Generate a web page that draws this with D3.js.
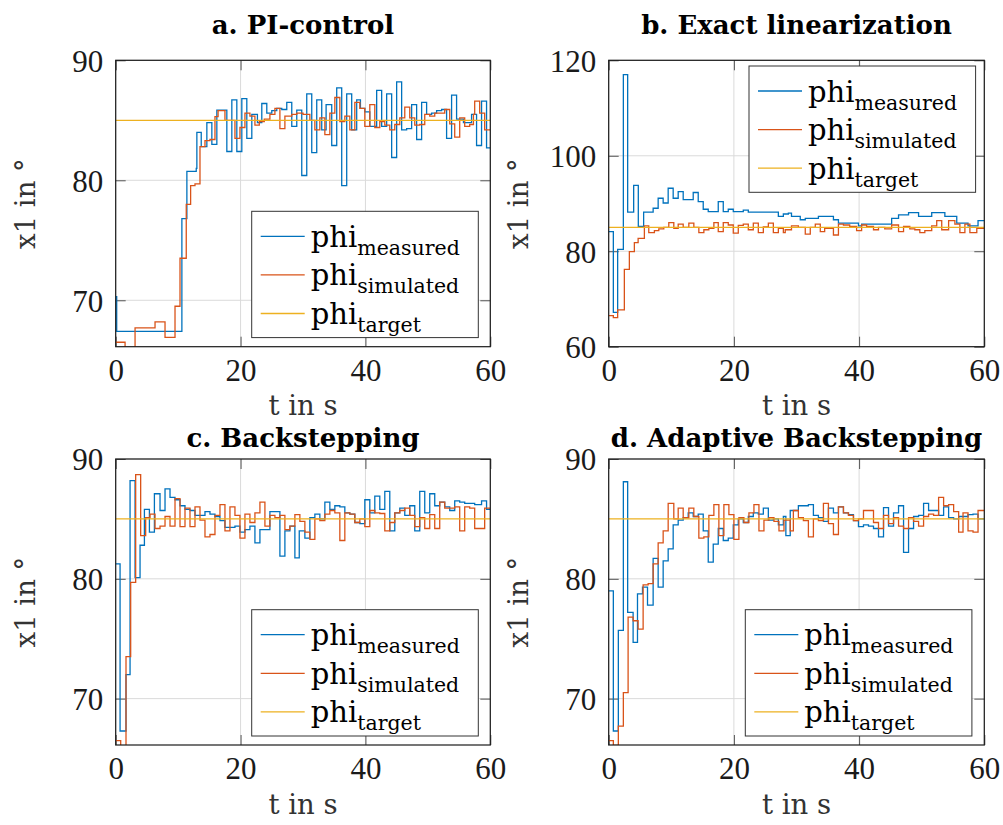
<!DOCTYPE html>
<html>
<head>
<meta charset="utf-8">
<script src="https://cdn.jsdelivr.net/npm/d3@7"></script>
<style>
  html, body { margin: 0; padding: 0; background: #fff; }
  svg { display: block; }
</style>
</head>
<body>
<svg id="chart" width="1003" height="825"></svg>
<script>
// ---------------- DATA (step series: [time s, angle deg], value holds until next time) ----------------
const xTicks = [0, 20, 40, 60];
const yTicksLow = [70, 80, 90];
const yTicksB = [60, 80, 100, 120];
const titles = ["a. PI-control", "b. Exact linearization", "c. Backstepping", "d. Adaptive Backstepping"];
const seriesNames = ["measured", "simulated", "target"];
const targetValue = 85;
const tEnd = 60;

const aMeasured = [[0,70.3],[0.16,67.4],[10.6,76.8],[11.4,80.75],[12.9,81.0],[13.0,84.0],[13.7,82.8],[14.6,84.8],[15.4,83.0],[16.2,85.85],[17.8,82.4],[18.6,86.7],[19.4,82.4],[20.2,86.8],[21.0,83.5],[21.8,85.5],[22.7,84.8],[23.4,86.4],[24.2,85.6],[25.0,85.8],[25.8,86.0],[26.6,85.9],[27.4,86.5],[28.2,84.5],[29.0,85.85],[29.8,80.4],[30.6,87.2],[31.4,82.3],[32.2,86.7],[33.0,84.2],[33.7,86.3],[34.6,82.9],[35.4,87.7],[36.2,79.55],[37.0,87.2],[37.8,84.2],[38.6,86.7],[39.2,86.0],[39.9,85.7],[40.7,84.5],[41.8,87.5],[42.6,84.5],[43.4,87.2],[44.2,81.9],[45.0,88.2],[45.8,84.2],[46.6,84.3],[47.4,86.3],[48.2,83.4],[49.0,86.5],[49.8,85.5],[50.6,85.6],[51.4,85.8],[52.2,85.9],[53.0,83.5],[53.8,87.1],[54.6,85.1],[55.7,84.8],[57.0,85.5],[57.8,82.9],[58.6,86.6],[59.4,82.7]];
const aSimulated = [[0,66.5],[1.5,65.8],[3.1,67.7],[6.3,68.2],[7.9,66.9],[9.5,69.5],[10.3,73.5],[11.3,78.0],[12.0,79.55],[12.7,79.7],[13.5,82.8],[14.3,83.3],[15.1,83.4],[15.9,85.3],[16.4,85.8],[17.5,85.0],[19.1,83.5],[19.9,84.4],[20.7,85.6],[21.5,85.35],[22.3,84.6],[23.0,84.9],[23.8,85.1],[24.7,85.5],[25.5,86.0],[26.3,84.3],[27.1,85.35],[28.2,85.5],[29.0,85.6],[30.0,85.5],[31.1,85.0],[31.9,84.2],[32.7,85.2],[33.5,83.8],[34.3,85.6],[35.1,86.9],[35.9,84.9],[36.7,85.35],[37.5,84.2],[38.3,86.5],[39.1,86.0],[39.9,84.5],[40.7,86.3],[41.5,84.4],[42.3,84.9],[43.1,84.6],[43.9,84.2],[44.7,84.65],[45.5,85.2],[46.3,86.1],[47.1,85.2],[47.9,84.6],[48.7,84.65],[49.5,85.5],[50.3,85.35],[51.1,85.6],[51.9,85.6],[52.7,85.9],[53.5,84.7],[54.3,83.6],[55.1,85.2],[55.9,84.5],[56.7,84.65],[57.3,85.5],[57.5,86.6],[58.3,85.6],[59.1,84.2]];

const bMeasured = [[0,84.1],[0.74,67.2],[1.43,80.4],[2.34,117.0],[3.03,88.2],[3.99,93.8],[4.73,85.2],[5.58,88.2],[7.1,89.0],[7.9,91.1],[8.7,90.1],[9.5,93.2],[10.3,91.1],[11.1,92.5],[11.9,90.8],[13.5,92.3],[14.3,90.4],[15.1,88.8],[15.9,88.3],[17.5,90.4],[18.3,88.3],[19.1,88.8],[19.9,88.3],[21.5,88.6],[22.3,88.2],[27.1,87.3],[27.9,87.8],[28.7,88.0],[29.2,87.3],[30.6,86.6],[31.4,86.9],[33.5,87.3],[35.9,86.6],[36.7,85.9],[39.9,85.3],[40.4,85.7],[45.2,86.9],[46.3,87.6],[47.9,88.1],[49.5,87.3],[51.6,88.1],[53.7,87.3],[55.6,85.9],[57.4,85.3],[59.0,86.4]];
const bSimulated = [[0,66.5],[0.74,66.1],[1.43,67.7],[2.5,76.2],[3.3,79.9],[4.1,81.8],[4.7,82.7],[5.7,85.3],[6.4,83.9],[7.3,84.3],[8.0,84.7],[8.8,85.0],[9.6,86.0],[10.4,84.8],[11.1,85.7],[11.9,85.0],[12.8,85.9],[13.6,85.0],[14.4,83.9],[15.2,84.5],[16.0,84.8],[16.8,86.0],[17.5,84.1],[18.3,86.0],[19.1,85.5],[19.9,83.8],[20.7,85.4],[21.5,85.7],[22.3,84.5],[23.1,85.9],[23.9,83.9],[24.7,85.1],[25.5,85.9],[26.3,83.9],[27.1,84.8],[27.9,83.9],[28.2,84.5],[29.2,85.3],[30.3,85.0],[31.4,83.6],[32.2,85.0],[33.0,85.7],[33.8,84.1],[34.5,84.8],[35.9,83.4],[36.7,85.7],[37.5,85.5],[38.5,85.2],[39.6,84.3],[40.4,85.5],[41.2,85.2],[42.3,84.5],[43.1,85.0],[44.1,84.7],[45.2,85.5],[46.3,84.1],[47.1,85.2],[48.1,84.7],[48.9,84.5],[49.7,83.9],[50.5,84.3],[51.6,85.3],[52.4,86.4],[53.2,84.5],[54.3,86.4],[55.3,85.7],[56.1,83.9],[56.9,85.7],[57.7,83.9],[58.8,84.8]];

const cMeasured = [[0,81.25],[0.7,67.3],[1.65,72.0],[2.3,88.2],[3.1,80.1],[3.9,82.8],[4.6,85.8],[5.4,83.9],[6.2,87.1],[7.1,85.7],[7.9,87.5],[8.7,86.8],[9.5,86.6],[10.3,86.1],[11.1,85.8],[11.9,85.7],[12.7,85.3],[14.3,85.6],[15.1,85.4],[15.9,85.2],[16.7,84.85],[17.5,84.3],[19.1,84.4],[19.9,83.9],[20.7,84.1],[21.5,84.4],[22.3,83.0],[23.1,84.1],[24.7,85.6],[26.3,81.9],[27.1,84.0],[27.9,84.4],[28.7,81.75],[29.4,84.0],[30.3,83.4],[31.1,85.1],[31.9,85.4],[32.7,85.0],[33.5,86.4],[34.3,85.8],[35.1,86.1],[35.9,86.0],[36.7,85.5],[37.5,85.4],[38.3,84.7],[39.1,84.6],[39.9,86.6],[40.7,85.5],[41.5,86.9],[42.3,85.8],[43.1,87.3],[43.9,84.0],[44.7,85.5],[45.5,85.9],[46.3,85.3],[47.1,86.1],[47.9,84.0],[48.7,87.3],[49.5,85.5],[50.3,87.1],[51.1,86.1],[51.9,86.4],[52.7,86.0],[53.5,85.7],[54.3,86.5],[55.1,86.4],[55.9,86.3],[57.5,86.2],[58.6,86.5],[59.4,85.8]];
const cSimulated = [[0,66.5],[0.8,65.8],[1.65,73.5],[2.4,79.7],[3.2,88.7],[4.0,83.6],[4.8,85.1],[5.5,85.4],[6.3,84.2],[7.1,84.4],[7.9,85.2],[8.7,84.4],[9.5,86.7],[10.3,84.35],[11.1,85.9],[11.9,84.35],[12.7,86.0],[13.5,84.9],[14.3,83.5],[15.1,83.7],[15.9,85.3],[16.7,86.2],[17.5,84.0],[18.3,86.0],[19.1,85.3],[19.9,83.4],[20.7,85.4],[21.5,84.7],[22.3,85.5],[23.1,86.4],[23.9,84.4],[24.7,85.3],[25.5,85.1],[26.3,85.3],[27.1,84.1],[27.9,84.4],[28.7,85.35],[29.5,84.8],[30.3,83.9],[31.1,83.3],[31.9,85.0],[32.7,84.85],[33.5,85.4],[34.3,85.7],[35.1,85.5],[35.9,83.2],[36.7,85.5],[37.5,85.4],[38.3,84.7],[39.1,85.0],[39.9,84.35],[40.7,85.7],[41.5,85.5],[42.3,85.45],[43.1,84.0],[43.9,84.7],[44.7,85.5],[45.5,85.7],[46.3,85.9],[47.1,85.3],[47.9,84.35],[48.7,85.1],[49.5,84.2],[50.3,85.35],[51.1,84.2],[51.9,86.4],[52.7,85.9],[53.5,85.9],[54.3,86.0],[55.1,84.0],[55.9,86.0],[56.7,85.9],[57.5,84.2],[58.3,84.2],[59.1,85.9]];

const dMeasured = [[0,79.0],[0.74,67.3],[1.54,75.7],[2.34,88.1],[3.03,77.2],[3.9,74.7],[4.6,78.75],[5.4,79.3],[6.2,77.8],[7.1,81.7],[7.9,79.3],[8.7,81.5],[9.5,82.5],[10.3,84.5],[11.1,84.9],[11.9,85.1],[12.7,85.5],[13.5,85.2],[14.3,85.4],[15.1,84.0],[15.9,81.4],[16.7,82.9],[17.5,84.2],[18.3,83.2],[19.1,83.4],[19.9,84.5],[20.7,85.0],[21.5,84.7],[22.3,85.2],[23.1,85.5],[23.9,85.4],[24.7,85.9],[25.5,84.9],[26.3,85.0],[27.1,84.5],[27.9,85.2],[28.3,83.6],[29.0,85.7],[30.3,86.1],[31.9,86.2],[32.7,85.3],[33.5,85.1],[34.3,84.8],[35.1,85.9],[35.9,85.5],[36.7,86.0],[37.5,85.5],[38.3,85.35],[39.1,84.85],[39.9,84.35],[40.7,84.5],[41.5,84.4],[42.3,84.2],[43.1,83.5],[43.9,85.95],[44.7,84.4],[45.5,85.5],[46.3,86.1],[47.1,82.2],[47.9,84.2],[48.7,85.2],[49.5,85.3],[50.3,86.3],[51.1,85.7],[52.7,85.3],[53.5,86.0],[54.3,85.1],[55.1,85.0],[55.9,85.2],[57.4,85.35],[58.2,85.4],[59.0,85.0]];
const dSimulated = [[0,66.5],[0.74,66.1],[1.54,67.7],[2.34,70.5],[3.1,76.8],[3.9,76.5],[4.7,75.8],[5.5,79.5],[6.3,79.6],[7.1,81.25],[7.9,83.0],[8.7,84.0],[9.5,86.3],[10.4,85.0],[11.1,85.9],[11.9,85.1],[12.8,85.9],[13.6,85.2],[14.4,83.4],[15.2,83.5],[16.0,85.3],[16.8,86.2],[17.6,83.6],[18.4,86.2],[19.2,85.35],[20.0,83.3],[20.8,85.1],[21.6,84.7],[22.4,85.5],[23.2,86.2],[24.0,84.0],[24.8,84.9],[25.6,85.1],[26.4,84.8],[27.2,84.0],[28.0,84.9],[29.0,84.0],[29.5,85.7],[30.3,85.1],[31.1,84.85],[31.9,83.5],[32.7,85.0],[33.5,84.85],[34.3,86.3],[35.1,84.6],[35.9,83.7],[36.7,86.0],[37.5,85.5],[38.3,85.3],[39.1,84.85],[39.9,85.0],[40.7,85.7],[41.5,85.7],[42.3,84.7],[43.1,84.2],[43.9,85.3],[44.7,84.6],[45.5,85.1],[46.3,84.4],[47.1,84.2],[47.9,85.1],[48.7,84.8],[49.5,84.4],[50.3,85.2],[51.1,85.4],[51.9,85.3],[52.7,86.8],[53.5,86.1],[54.3,86.2],[55.1,85.6],[55.9,83.9],[56.6,85.5],[57.4,84.0],[58.2,83.9],[59.0,85.7]];

// ---------------- LAYOUT ----------------
const colors = { measured: "#0072BD", simulated: "#D95319", target: "#EDB120" };
const panels = [
  { title: titles[0], meas: aMeasured, sim: aSimulated, yDomain: [66.13, 90], yTicks: yTicksLow,
    left: 115.7, top: 60.3, w: 374.6, h: 286.4, titleY: 33.5, legend: [251.7, 211.3] },
  { title: titles[1], meas: bMeasured, sim: bSimulated, yDomain: [60, 120], yTicks: yTicksB,
    left: 608.7, top: 60.3, w: 375.6, h: 286.4, titleY: 33.5, legend: [749, 66] },
  { title: titles[2], meas: cMeasured, sim: cSimulated, yDomain: [66.13, 90], yTicks: yTicksLow,
    left: 115.7, top: 459, w: 374.6, h: 286, titleY: 446.5, legend: [251.7, 609.7] },
  { title: titles[3], meas: dMeasured, sim: dSimulated, yDomain: [66.13, 90], yTicks: yTicksLow,
    left: 608.7, top: 459, w: 375.6, h: 286, titleY: 446.5, legend: [745.3, 609.7] }
];

const svg = d3.select("#chart");
const serif = "'DejaVu Serif', serif";
const tickFont = "'Liberation Serif', 'Times New Roman', serif";

panels.forEach((p, i) => {
  const x = d3.scaleLinear().domain([0, tEnd]).range([p.left, p.left + p.w]);
  const y = d3.scaleLinear().domain(p.yDomain).range([p.top + p.h, p.top]);
  const g = svg.append("g");

  const clipId = "clip" + i;
  svg.append("defs").append("clipPath").attr("id", clipId)
    .append("rect").attr("x", p.left).attr("y", p.top).attr("width", p.w).attr("height", p.h);

  // grid
  g.append("g").selectAll("line").data(xTicks).join("line")
    .attr("x1", d => x(d)).attr("x2", d => x(d)).attr("y1", p.top).attr("y2", p.top + p.h)
    .attr("stroke", "#dadada").attr("stroke-width", 1);
  g.append("g").selectAll("line").data(p.yTicks).join("line")
    .attr("y1", d => y(d)).attr("y2", d => y(d)).attr("x1", p.left).attr("x2", p.left + p.w)
    .attr("stroke", "#dadada").attr("stroke-width", 1);

  // axes with inward ticks
  const bottom = g.append("g").attr("transform", `translate(0,${p.top + p.h})`)
    .call(d3.axisBottom(x).tickValues(xTicks).tickSizeInner(-10).tickSizeOuter(0).tickPadding(12));
  const left = g.append("g").attr("transform", `translate(${p.left},0)`)
    .call(d3.axisLeft(y).tickValues(p.yTicks).tickSizeInner(-10).tickSizeOuter(0).tickPadding(12.5));
  const top = g.append("g").attr("transform", `translate(0,${p.top})`)
    .call(d3.axisTop(x).tickValues(xTicks).tickSizeInner(-10).tickSizeOuter(0).tickFormat(""));
  const right = g.append("g").attr("transform", `translate(${p.left + p.w},0)`)
    .call(d3.axisRight(y).tickValues(p.yTicks).tickSizeInner(-10).tickSizeOuter(0).tickFormat(""));
  [bottom, left, top, right].forEach(a => {
    a.select(".domain").remove();
    a.selectAll(".tick line").attr("stroke", "#555").attr("stroke-width", 1);
    a.selectAll(".tick text").attr("fill", "#1a1a1a").style("font-family", tickFont).style("font-size", "31px");
  });
  left.selectAll(".tick text").attr("dy", "0.35em");

  // series
  const line = d3.line().x(d => x(d[0])).y(d => y(d[1])).curve(d3.curveStepAfter);
  const plotG = g.append("g").attr("clip-path", `url(#${clipId})`);
  const ext = arr => arr.concat([[tEnd, arr[arr.length - 1][1]]]);
  plotG.append("path").datum(ext(p.meas)).attr("d", line)
    .attr("fill", "none").attr("stroke", colors.measured).attr("stroke-width", 1.3);
  plotG.append("path").datum(ext(p.sim)).attr("d", line)
    .attr("fill", "none").attr("stroke", colors.simulated).attr("stroke-width", 1.3);
  plotG.append("path").datum([[0, targetValue], [tEnd, targetValue]]).attr("d", line)
    .attr("fill", "none").attr("stroke", colors.target).attr("stroke-width", 1.3);

  // box
  g.append("rect").attr("x", p.left).attr("y", p.top).attr("width", p.w).attr("height", p.h)
    .attr("fill", "none").attr("stroke", "#1a1a1a").attr("stroke-width", 1.2);

  // title
  g.append("text").attr("x", p.left + p.w / 2).attr("y", p.titleY)
    .attr("text-anchor", "middle").style("font-family", serif).style("font-weight", "bold")
    .style("font-size", "26px").attr("fill", "#000").text(p.title);

  // axis labels
  g.append("text").attr("x", p.left + p.w / 2).attr("y", p.top + p.h + 68.5)
    .attr("text-anchor", "middle").style("font-family", serif).style("font-size", "27.5px")
    .attr("fill", "#333").text("t in s");
  g.append("text").attr("transform", `translate(${p.left - 80.7},${p.top + p.h / 2}) rotate(-90)`)
    .attr("text-anchor", "middle").style("font-family", serif).style("font-size", "27.5px")
    .attr("fill", "#333").text("x1 in °");

  // legend
  const [lx, ly] = p.legend;
  const lg = g.append("g");
  lg.append("rect").attr("x", lx).attr("y", ly).attr("width", 226.6).attr("height", 126.3)
    .attr("fill", "#fff").attr("stroke", "#333").attr("stroke-width", 1);
  seriesNames.forEach((name, k) => {
    const ry = ly + 25 + k * 38.6;
    lg.append("line").attr("x1", lx + 9).attr("x2", lx + 53).attr("y1", ry).attr("y2", ry)
      .attr("stroke", colors[name]).attr("stroke-width", 1.3);
    const t = lg.append("text").attr("x", lx + 59).attr("y", ry + 10.5)
      .style("font-family", serif).style("font-size", "29px").attr("fill", "#000");
    t.append("tspan").text("phi");
    t.append("tspan").attr("dy", 8).style("font-size", "20.5px").text(name);
  });
});
</script>
</body>
</html>
